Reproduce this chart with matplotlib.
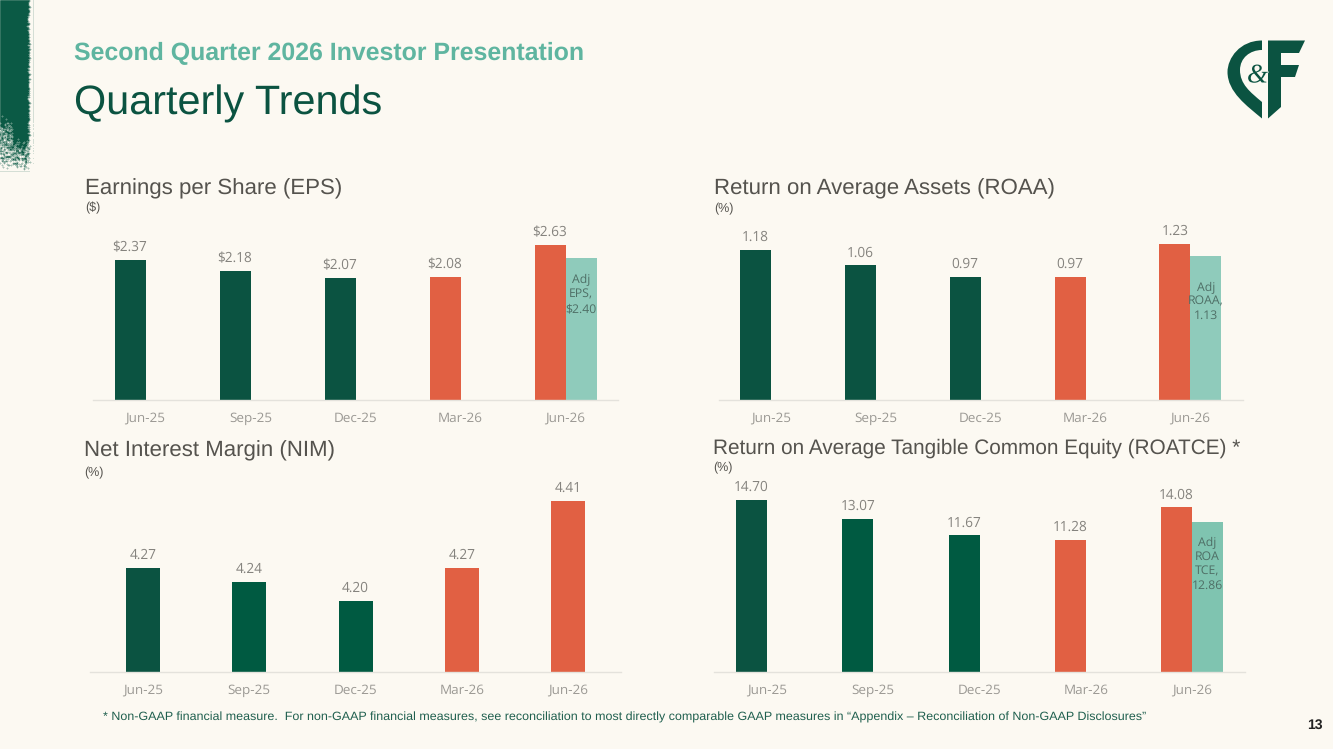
"""
Quarterly trends slide: EPS, ROAA, NIM and ROATCE bar panels
Run: python3 plot.py
"""
import numpy as np
import matplotlib
matplotlib.use("Agg")
import matplotlib.pyplot as plt
from matplotlib.path import Path
from matplotlib.patches import PathPatch
import matplotlib.patheffects as pe

W, H = 1333, 749
BG = "#FCF9F2"
DARK = "#0B5341"
GREEN = "#005A41"
ORANGE = "#E16043"
TEAL = "#8FCBBB"
TEAL2 = "#7FC4B0"
HEAD = "#55534E"
LABEL = "#85837E"
TICK = "#9B9994"
AXIS = "#E4E2DC"
BODY = "Liberation Sans"
CHART = "Open Sans"

quarters = ["Jun-25", "Sep-25", "Dec-25", "Mar-26", "Jun-26"]

eps = [2.37, 2.18, 2.07, 2.08, 2.63]
eps_adj = [np.nan, np.nan, np.nan, np.nan, 2.40]
roaa = [1.18, 1.06, 0.97, 0.97, 1.23]
roaa_adj = [np.nan, np.nan, np.nan, np.nan, 1.13]
nim = [4.27, 4.24, 4.20, 4.27, 4.41]
roatce = [14.70, 13.07, 11.67, 11.28, 14.08]
roatce_adj = [np.nan, np.nan, np.nan, np.nan, 12.86]

plt.rcParams["font.family"] = BODY
plt.rcParams["text.hinting"] = "no_hinting"
fig = plt.figure(figsize=(W / 100, H / 100), dpi=100, facecolor=BG)

# full-slide layer in pixel coordinates for headings and decoration
bg = fig.add_axes([0, 0, 1, 1])
bg.set_xlim(0, W); bg.set_ylim(H, 0); bg.axis("off")


def px(size):
    return size * 72 / 100


def panel(rect, base, vals, adj, colors, fmt, adj_lines, adj_color, adj_drop, width, ppu):
    """rect = left, right, top, bottom in pixels; ppu = pixels per y unit."""
    l, r, t, b = rect
    ax = fig.add_axes([l / W, 1 - b / H, (r - l) / W, (b - t) / H])
    ax.patch.set_alpha(0)
    x = np.arange(len(vals))
    has_adj = adj is not None
    xs = x - width / 2 if has_adj else x
    ax.bar(xs, np.array(vals) - base, width, bottom=base, color=colors)
    for xi, v in zip(xs, vals):
        ax.annotate(fmt.format(v), (xi, v), xytext=(0, 4), textcoords="offset points",
                    ha="center", va="bottom", fontsize=9.8, color=LABEL, family=CHART)
    if has_adj:
        ax.bar(x + width / 2, np.array(adj) - base, width, bottom=base, color=adj_color)
        last = len(vals) - 1
        ax.annotate("\n".join(adj_lines), (last + width / 2, adj[last]), xytext=(0, -adj_drop),
                    textcoords="offset points", ha="center", va="top", fontsize=8.8,
                    linespacing=1.25, color="#4F6F66", family=CHART)
    ax.set_xlim(-0.5, len(vals) - 0.5)
    ax.set_ylim(base, base + (b - t) / ppu)
    ax.set_xticks(x, quarters)
    ax.set_yticks([])
    ax.tick_params(axis="x", length=0, pad=15.5, labelsize=9.7, labelcolor=TICK)
    for lab in ax.get_xticklabels():
        lab.set_family(CHART)
        lab.set_verticalalignment("baseline")
    for s in ["top", "left", "right"]:
        ax.spines[s].set_visible(False)
    ax.spines["bottom"].set_color(AXIS)
    ax.spines["bottom"].set_linewidth(1)
    return ax


greens = [DARK] * 3 + [ORANGE] * 2
mixed = [DARK, GREEN, GREEN, ORANGE, ORANGE]

panel((93, 618, 225, 400), 0, eps, eps_adj, greens, "${:.2f}",
      ["Adj", "EPS,", "$2.40"], TEAL, 11.5, 31 / 105, 59.0)
panel((718.7, 1242.7, 225, 400), 0, roaa, roaa_adj, greens, "{:.2f}",
      ["Adj", "ROAA,", "1.13"], TEAL, 18, 31 / 104.8, 127.0)
panel((90, 621, 480, 672), 4.05, nim, None, mixed, "{:.2f}",
      None, None, 0, 34 / 106.2, 475.0)
panel((714, 1245, 480, 672), 0, roatce, roatce_adj, mixed, "{:.2f}",
      ["Adj", "ROA", "TCE,", "12.86"], TEAL2, 11, 31 / 106.2, 11.7)

# slide headings
bg.text(74, 60, "Second Quarter 2026 Investor Presentation", fontsize=px(24.9), fontweight="bold",
        color="#5FB5A0", va="baseline")
bg.text(74, 114, "Quarterly Trends", fontsize=px(41.4), color=DARK, va="baseline")

for x, y, title, size in [(85, 194, "Earnings per Share (EPS)", 22.3),
                          (714, 194, "Return on Average Assets (ROAA)", 22.3),
                          (84, 456, "Net Interest Margin (NIM)", 22.3),
                          (713, 454, "Return on Average Tangible Common Equity (ROATCE) *", 20.8)]:
    bg.text(x, y, title, fontsize=px(size), color=HEAD, va="baseline")
for x, y, unit in [(85, 211, "($)"), (714, 212, "(%)"), (84, 476, "(%)"), (713, 471, "(%)")]:
    bg.text(x, y, unit, fontsize=px(12.5), color=HEAD, va="baseline")

bg.text(103, 721, "* Non-GAAP financial measure.  For non-GAAP financial measures, see reconciliation "
        "to most directly comparable GAAP measures in \u201cAppendix \u2013 Reconciliation of "
        "Non-GAAP Disclosures\u201d", fontsize=px(12.47), color="#1F5F4E", va="baseline")
bg.text(1323, 729, "13", fontsize=px(14), fontweight="bold", color="#222222", ha="right", va="baseline")

# brush stroke down the left edge, solid at the top and breaking up towards the bottom
rng = np.random.default_rng(7)
sh, sw = 172, 34
yy, xx = np.mgrid[0:sh, 0:sw]
edge = 29 + rng.normal(0, 0.8, sh)[:, None]
fade = np.clip((170 - yy) / 58.0, 0, 1) ** 0.8
fade = np.where(xx > 12, np.clip(fade * 1.6, 0, 1), fade)
speck = (rng.random((sh, sw)) < fade) * (xx < edge) * 1.0
# soften the speckle with a small box filter
soft = speck.copy()
for dy, dx in [(0, 1), (0, -1), (1, 0), (-1, 0)]:
    soft = soft + 0.5 * np.roll(np.roll(speck, dy, axis=0), dx, axis=1)
stroke = np.zeros((sh, sw, 4))
stroke[..., :3] = matplotlib.colors.to_rgb("#0B5A45")
stroke[..., 3] = soft / 3.0
bg.imshow(stroke, extent=(0, sw, sh, 0), interpolation="bilinear", aspect="auto", zorder=1)
bg.set_xlim(0, W); bg.set_ylim(H, 0)

# C&F mark
M, L, C = Path.MOVETO, Path.LINETO, Path.CURVE4
c_verts = [(1262, 40.5), (1240, 40.5), (1227.5, 58), (1227.5, 72), (1227.5, 92), (1247, 106), (1262, 118.5),
           (1262, 102), (1250, 92), (1240, 84), (1240, 70), (1240, 58), (1250, 50), (1262, 50), (1262, 40.5)]
c_codes = [M, C, C, C, C, C, C, L, C, C, C, C, C, C, L]
f_verts = [(1268, 40.5), (1305, 40.5), (1299, 53), (1281, 53), (1281, 65), (1299, 65), (1295, 77),
           (1281, 77), (1281, 107), (1268, 118.5), (1268, 40.5)]
f_codes = [M, L, L, L, L, L, L, L, L, L, L]
bg.add_patch(PathPatch(Path(c_verts, c_codes), fc=DARK, ec="none", zorder=3))
bg.add_patch(PathPatch(Path(f_verts, f_codes), fc=DARK, ec="none", zorder=3))
bg.text(1257.5, 76, "&", fontsize=px(27), family="Liberation Serif", style="italic",
        color=DARK, ha="center", va="center", zorder=4,
        path_effects=[pe.withStroke(linewidth=1.0, foreground=BG)])

fig.savefig("out.png", dpi=100, facecolor=BG)
